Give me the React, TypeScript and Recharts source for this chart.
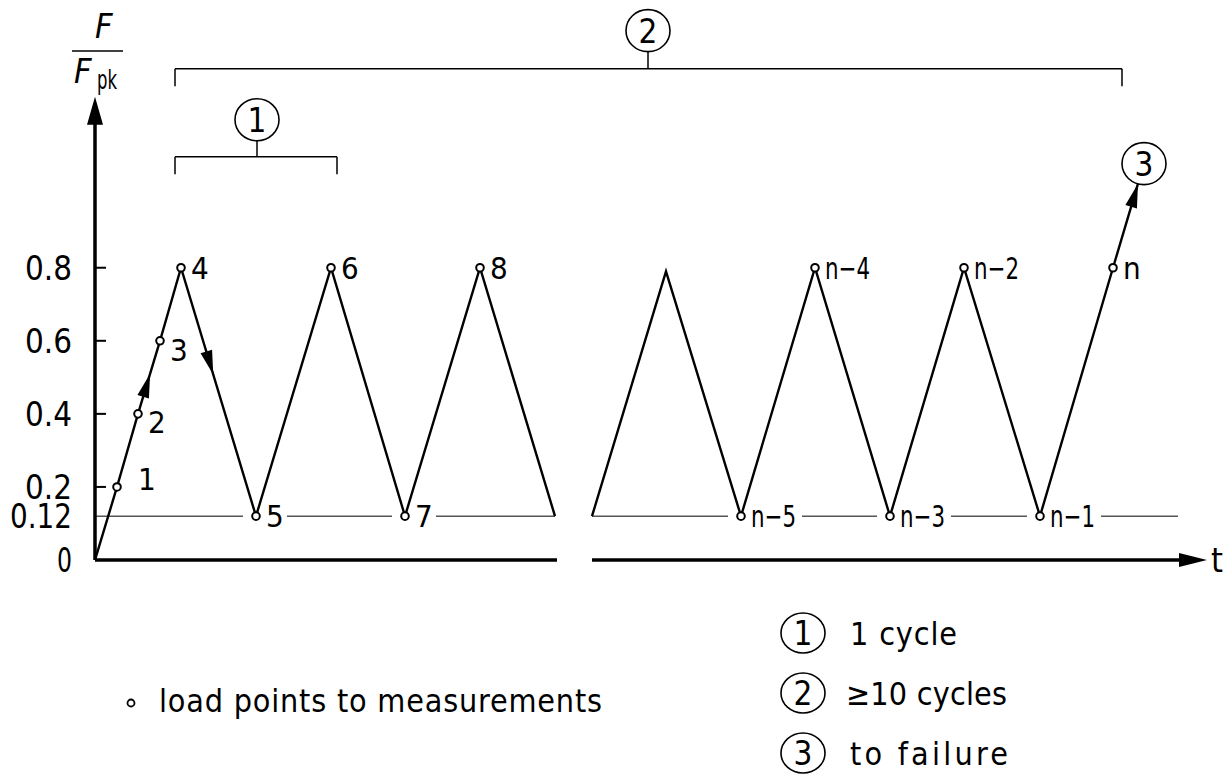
import React from 'react';
import { LineChart, Line, XAxis, YAxis, ReferenceLine, ReferenceDot, LabelList } from 'recharts';

// load history: first run of cycles, gap, last run of cycles
const timeFirst = [0, 22, 43, 65, 86, 161, 236, 310, 385, 460];
const loadFirst = [0, 0.2, 0.4, 0.6, 0.8, 0.12, 0.8, 0.12, 0.8, 0.12];
const namesFirst = ['', '1', '2', '3', '4', '5', '6', '7', '8', ''];

const timeLast = [497, 571, 646, 720, 795, 869, 945, 1018, 1043];
const loadLast = [0.12, 0.79, 0.12, 0.8, 0.12, 0.8, 0.12, 0.8, 1.03];
const namesLast = ['', '', 'n−5', 'n−4', 'n−3', 'n−2', 'n−1', 'n', ''];

const yTicks = [0, 0.12, 0.2, 0.4, 0.6, 0.8];
const yTickLabels = ['0', '0.12', '0.2', '0.4', '0.6', '0.8'];

const lowerLoad = 0.12;
const basePieces = [[0, 460], [497, 1083]];
const axisPieces = [[0, 462], [497, 1085]];

const legendItems = ['1 cycle', '≥10 cycles', 'to failure'];
const legendWidths = [107, 161, 158];
const legendStart = [850, 846, 850];

const W = 1231;
const H = 774;
const X_MAX = 1112;
const Y_MAX = 1.5;
const Y_AXIS_W = 95;
const margin = { top: 12, right: 24, bottom: 214, left: 0 };
const kx = (W - margin.right - Y_AXIS_W) / X_MAX;
const ky = (H - margin.top - margin.bottom) / Y_MAX;

const FONT = "'DejaVu Sans Condensed', 'Liberation Sans Narrow', sans-serif";
const INK = '#000';

// drafting-style text: fitted into the width measured on the drawing
const Txt = ({ x, y, w, size = 31, anchor = 'start', italic = false, squeeze = true, children }: any) => (
  <text
    x={x}
    y={y}
    fontFamily={FONT}
    fontSize={size}
    fontStyle={italic ? 'italic' : 'normal'}
    textAnchor={anchor}
    fill={INK}
    textLength={w}
    lengthAdjust={w ? (squeeze ? 'spacingAndGlyphs' : 'spacing') : undefined}
  >
    {children}
  </text>
);

const toRows = (ts: number[], fs: number[], names: string[]) =>
  ts.map((t, i) => ({ t, f: fs[i], name: names[i] }));
const firstData = toRows(timeFirst, loadFirst, namesFirst);
const lastData = toRows(timeLast, loadLast, namesLast);

const labelShift: Record<string, [number, number]> = {
  '1': [21, -8],
  '2': [10, 8],
  '3': [10, 9],
};

const PointLabel = (props: any) => {
  const { x, y, value } = props;
  if (!value) return null;
  const [dx, dy] = labelShift[value] || [10, 0];
  const low = !labelShift[value] && y > 500;
  const w = value.length === 1 ? undefined : 45;
  return (
    <g>
      {low && <rect x={x - 13} y={y - 3} width={13 + dx + (w || 15) + 6} height={6} fill="#fff" />}
      <circle cx={x} cy={y} r={3.8} fill="#fff" stroke={INK} strokeWidth={2} />
      <Txt x={x + dx} y={y + dy + 11} w={w} size={31}>{value}</Txt>
    </g>
  );
};

const LoadTick = ({ y, payload }: any) => {
  const i = yTicks.indexOf(payload.value);
  const s = yTickLabels[i];
  const w = s.length === 1 ? 15 : 15 * (s.length - 1) + 17;
  return (
    <g>
      <Txt x={72} y={y + 12} w={w} size={34} anchor="end">{s}</Txt>
      {payload.value >= 0.2 && <line x1={95} x2={106} y1={y} y2={y} stroke={INK} strokeWidth={2} />}
    </g>
  );
};

const arrowHead = (angle: number, len: number, half: number) => (p: any) => {
  const { cx, cy } = p;
  return (
    <polygon
      points={`0,0 ${-len},${-half} ${-len},${half}`}
      transform={`translate(${cx},${cy}) rotate(${(angle * 180) / Math.PI})`}
      fill={INK}
    />
  );
};

// direction of travel on a segment, in screen space
const segAngle = (rows: { t: number; f: number }[], i: number) =>
  Math.atan2(-(rows[i + 1].f - rows[i].f) * ky, (rows[i + 1].t - rows[i].t) * kx);

const along = (rows: { t: number; f: number }[], i: number, k: number) => ({
  t: rows[i].t + (rows[i + 1].t - rows[i].t) * k,
  f: rows[i].f + (rows[i + 1].f - rows[i].f) * k,
});

const upArrow = along(firstData, 2, 0.55);
const downArrow = along(firstData, 4, 0.43);
const endArrow = lastData[lastData.length - 1];

const Badge = (label: string) => (p: any) => (
  <g>
    <ellipse cx={p.cx} cy={p.cy} rx={22} ry={21} fill="#fff" stroke={INK} strokeWidth={1.6} />
    <Txt x={p.cx} y={p.cy + 12} size={33} anchor="middle">{label}</Txt>
  </g>
);

const brackets = [
  { label: '1', from: 80, to: 242, mid: 162, level: 1.104, badge: 1.205 },
  { label: '2', from: 80, to: 1027, mid: 553, level: 1.345, badge: 1.449 },
];

export default function App() {
  return (
    <div style={{ position: 'absolute', left: 0, top: 0, background: '#fff' }}>
      <LineChart width={W} height={H} margin={margin}>
        <XAxis type="number" dataKey="t" domain={[0, X_MAX]} allowDataOverflow hide />
        <YAxis
          type="number"
          domain={[0, Y_MAX]}
          allowDataOverflow
          width={Y_AXIS_W}
          ticks={yTicks}
          interval={0}
          axisLine={false}
          tickLine={false}
          tick={<LoadTick />}
        />

        {basePieces.map((p, i) => (
          <Line
            key={'b' + i}
            data={[{ t: p[0], f: lowerLoad }, { t: p[1], f: lowerLoad }]}
            dataKey="f"
            stroke={INK}
            strokeWidth={1}
            dot={false}
            activeDot={false}
            isAnimationActive={false}
          />
        ))}

        {axisPieces.map((p, i) => (
          <ReferenceLine
            key={'a' + i}
            segment={[{ x: p[0], y: 0 }, { x: p[1], y: 0 }]}
            stroke={INK}
            strokeWidth={3.5}
            ifOverflow="visible"
          />
        ))}
        <ReferenceLine segment={[{ x: 0, y: 0 }, { x: 0, y: 1.2 }]} stroke={INK} strokeWidth={3.5} ifOverflow="visible" />
        <ReferenceDot x={0} y={1.268} r={1} ifOverflow="visible" shape={arrowHead(-Math.PI / 2, 28, 8)} />
        <ReferenceDot x={X_MAX} y={0} r={1} ifOverflow="visible" shape={arrowHead(0, 28, 7)} />

        {[firstData, lastData].map((rows, i) => (
          <Line
            key={'s' + i}
            data={rows}
            dataKey="f"
            stroke={INK}
            strokeWidth={2.4}
            dot={false}
            activeDot={false}
            isAnimationActive={false}
          >
            <LabelList dataKey="name" content={<PointLabel />} />
          </Line>
        ))}

        <ReferenceDot x={upArrow.t} y={upArrow.f} r={1} ifOverflow="visible" shape={arrowHead(segAngle(firstData, 2), 24, 6)} />
        <ReferenceDot x={downArrow.t} y={downArrow.f} r={1} ifOverflow="visible" shape={arrowHead(segAngle(firstData, 4), 24, 6)} />
        <ReferenceDot
          x={endArrow.t}
          y={endArrow.f}
          r={1}
          ifOverflow="visible"
          shape={arrowHead(segAngle(lastData, lastData.length - 2), 24, 6)}
        />

        {brackets.map((b) => (
          <React.Fragment key={b.label}>
            <ReferenceLine segment={[{ x: b.from, y: b.level }, { x: b.to, y: b.level }]} stroke={INK} strokeWidth={1.5} ifOverflow="visible" />
            <ReferenceLine segment={[{ x: b.from, y: b.level }, { x: b.from, y: b.level - 0.048 }]} stroke={INK} strokeWidth={1.5} ifOverflow="visible" />
            <ReferenceLine segment={[{ x: b.to, y: b.level }, { x: b.to, y: b.level - 0.048 }]} stroke={INK} strokeWidth={1.5} ifOverflow="visible" />
            <ReferenceLine segment={[{ x: b.mid, y: b.level }, { x: b.mid, y: b.badge }]} stroke={INK} strokeWidth={1.5} ifOverflow="visible" />
            <ReferenceDot x={b.mid} y={b.badge} r={21} ifOverflow="visible" shape={Badge(b.label)} />
          </React.Fragment>
        ))}
        <ReferenceDot x={1049} y={1.085} r={21} ifOverflow="visible" shape={Badge('3')} />

        {/* axis titles */}
        <g>
          <Txt x={95} y={38} size={34} italic>F</Txt>
          <line x1={72} x2={123} y1={51} y2={51} stroke={INK} strokeWidth={1.6} />
          <Txt x={74} y={83} size={34} italic>F</Txt>
          <Txt x={97} y={89} w={20} size={27}>pk</Txt>
          <Txt x={1211} y={572} size={34}>t</Txt>
        </g>

        {/* legend */}
        <g>
          <circle cx={131} cy={703} r={3.5} fill="#fff" stroke={INK} strokeWidth={1.8} />
          <Txt x={159} y={712} w={443} size={32} squeeze={false}>load points to measurements</Txt>
          {legendItems.map((s, i) => (
            <g key={s}>
              <ellipse cx={803} cy={633 + i * 60} rx={22} ry={20} fill="#fff" stroke={INK} strokeWidth={1.6} />
              <Txt x={803} y={645 + i * 60} size={33} anchor="middle">{i + 1}</Txt>
              <Txt x={legendStart[i]} y={645 + i * 60} w={legendWidths[i]} size={32} squeeze={false}>{s}</Txt>
            </g>
          ))}
        </g>
      </LineChart>
    </div>
  );
}
